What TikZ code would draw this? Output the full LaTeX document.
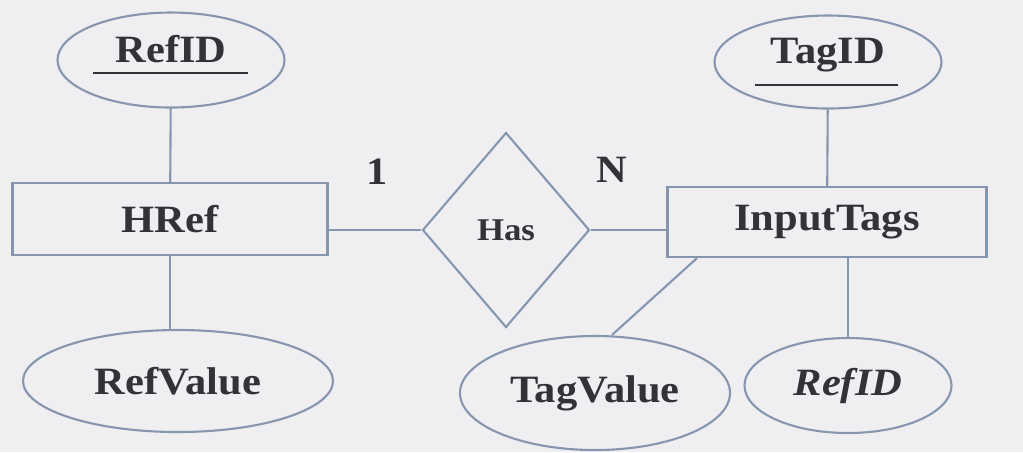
\documentclass[tikz,border=0pt]{standalone}
\usepackage{fontspec}
\setmainfont{Liberation Serif}[FakeStretch=1.1]
\definecolor{paper}{RGB}{239,239,242}
\definecolor{edgeblue}{RGB}{135,150,175}
\definecolor{inkgray}{RGB}{50,50,55}
\usetikzlibrary{shapes.geometric, calc}
\tikzstyle{entity}=[rectangle, draw, minimum width=3.15cm, minimum height=0.72cm]
\tikzstyle{attr}=[ellipse, draw, inner sep=0pt]
\tikzstyle{keyattr}=[attr, text depth=0.22cm]
\tikzstyle{rel}=[diamond, draw, inner sep=0pt, minimum width=1.67cm, minimum height=1.95cm]

\begin{document}
\begin{tikzpicture}[edgeblue, text=inkgray, line width=0.6pt, font=\fontsize{11}{13}\selectfont\bfseries]
        \path[fill=paper, use as bounding box] (0,0) rectangle (10.23,-4.52);
        \node[entity] (href) at (1.70,-2.19) {HRef};
        \node[keyattr, minimum width=2.27cm, minimum height=0.95cm] (refid) at (1.71,-0.60) {RefID};
        \node[attr, minimum width=3.10cm, minimum height=1.02cm] (refval) at (1.78,-3.81) {RefValue};
        \node[rel, font=\fontsize{9}{11}\selectfont\bfseries] (has) at (5.06,-2.30) {Has};
        \node[entity, minimum width=3.19cm, minimum height=0.70cm] (tags) at (8.27,-2.22) {InputTags};
        \node[keyattr, minimum width=2.27cm, minimum height=0.93cm] (tagid) at (8.28,-0.62) {TagID};
        \node[attr, minimum width=2.70cm, minimum height=1.14cm] (tagval) at (5.95,-3.93) {TagValue};
        \node[attr, minimum width=2.07cm, minimum height=0.95cm, font=\fontsize{11}{13}\selectfont\bfseries\itshape] (fkref) at (8.48,-3.855) {RefID};
        \node (one) at (3.77,-1.72) {1};
        \node (many) at (6.12,-1.70) {N};
        \draw[inkgray, line width=0.6pt] ($(refid)+(-0.78,-0.13)$) -- ($(refid)+(0.77,-0.13)$);
        \draw[inkgray, line width=0.6pt] ($(tagid)+(-0.73,-0.23)$) -- ($(tagid)+(0.70,-0.23)$);
        \draw (refid) -- (href);
        \draw (href.south) -- (href.south |- refval.north);
        \draw (href.east |- has.west) -- (has.west);
        \draw (has.east) -- (has.east -| tags.west);
        \draw (tagid) -- (tags);
        \draw ([xshift=-1.30cm]tags.south) -- ([xshift=0.17cm]tagval.north);
        \draw (fkref.north |- tags.south) -- (fkref.north);
\end{tikzpicture}
\end{document}
